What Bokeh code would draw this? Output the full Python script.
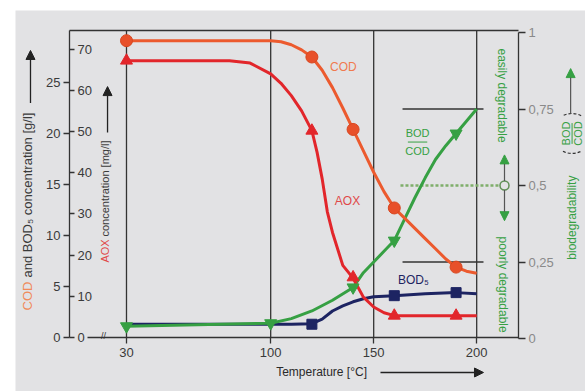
import math
from bokeh.plotting import figure
from bokeh.models import LinearAxis, Range1d, FixedTicker, Arrow, NormalHead
from bokeh.core.properties import value
from bokeh.embed import file_html
from bokeh.resources import INLINE

# ---------------- data ----------------
# COD [g/l] curve and markers
cod_curve_x = [30, 100, 105, 110, 115, 120, 125, 130, 135, 140, 145, 150, 155, 160, 165, 170, 175, 180, 185, 190, 195, 200]
cod_curve_y = [29.1, 29.1, 29.0, 28.7, 28.2, 27.5, 26.2, 24.5, 22.5, 20.4, 18.3, 16.2, 14.3, 12.7, 11.7, 10.7, 9.7, 8.7, 7.7, 6.9, 6.5, 6.3]
cod_pts_x = [30, 120, 140, 160, 190]
cod_pts_y = [29.1, 27.5, 20.4, 12.7, 6.9]

# AOX [mg/l]
aox_curve_x = [30, 80, 90, 100, 105, 110, 115, 120, 122.5, 125, 127.5, 130, 135, 140, 145, 150, 155, 160, 190, 200]
aox_curve_y = [67.2, 67.2, 66.6, 64.0, 61.7, 58.7, 55.0, 50.2, 45.0, 38.5, 30.5, 25.5, 17.5, 14.4, 9.8, 7.4, 6.0, 5.3, 5.3, 5.3]
aox_pts_x = [30, 120, 140, 160, 190]
aox_pts_y = [67.2, 50.2, 14.6, 5.3, 5.3]

# BOD5 [g/l]
bod_curve_x = [30, 110, 120, 125, 130, 135, 140, 145, 150, 160, 175, 190, 200]
bod_curve_y = [1.3, 1.3, 1.35, 1.8, 2.6, 3.1, 3.5, 3.8, 4.0, 4.1, 4.3, 4.4, 4.3]
bod_pts_x = [120, 160, 190]
bod_pts_y = [1.3, 4.1, 4.4]

# BOD/COD ratio
rat_curve_x = [30, 100, 110, 120, 130, 140, 145, 150, 155, 160, 165, 170, 175, 180, 185, 190, 195, 200]
rat_curve_y = [0.04, 0.05, 0.065, 0.09, 0.125, 0.167, 0.215, 0.25, 0.285, 0.32, 0.39, 0.46, 0.525, 0.585, 0.63, 0.67, 0.71, 0.75]
rat_pts_x = [30, 100, 140, 160, 190]
rat_pts_y = [0.04, 0.05, 0.167, 0.32, 0.67]

x_ticks = [30, 100, 150, 200]
g_ticks = [0, 5, 10, 15, 20, 25]
mg_ticks = [0, 10, 20, 30, 40, 50, 60, 70]
ratio_ticks = [0, 0.25, 0.5, 0.75, 1]
ratio_labels = ["0", "0,25", "0,5", "0,75", "1"]
ratio_marks = [0.25, 0.75]

# ---------------- styling / geometry ----------------
FONT = value("Liberation Sans")
C_COD = "#ec5a2e"
C_AOX = "#e2262b"
C_BOD = "#1d2462"
C_GRN = "#36a043"
C_AX = "#333333"
BG = "#e2e2e4"

X0, X1 = -23.88, 252.82          # temperature range spanned by the frame
G0, G1 = -5.294, 32.06           # g/l
MG0, MG1 = -13.107, 79.37        # mg/l
R0, R1 = -0.1732, 1.0719         # ratio
XA, XR, XB = 2.3, 220.3, 11.0    # left axis, right axis, start of x axis line
GTOP, MGTOP = 30.1, 74.5

p = figure(width=585, height=391, output_backend="svg", toolbar_location=None,
           x_range=Range1d(X0, X1), y_range=Range1d(G0, G1),
           x_axis_type=None, y_axis_type=None,
           min_border_left=15, min_border_top=10, min_border_right=0, min_border_bottom=0)
p.extra_y_ranges = {"mg": Range1d(MG0, MG1), "ratio": Range1d(R0, R1)}
p.background_fill_color = BG
p.border_fill_color = "white"
p.outline_line_color = None


def style_axis(ax, color=C_AX, label_color="#3a3a3a"):
    ax.axis_line_color = color
    ax.axis_line_width = 1.3
    ax.major_tick_line_color = color
    ax.major_tick_line_width = 1.3
    ax.minor_tick_line_color = None
    ax.major_label_text_font = "Liberation Sans"
    ax.major_label_text_font_size = "13px"
    ax.major_label_text_color = label_color


ax_g = LinearAxis(fixed_location=XA, bounds=(0, GTOP), ticker=FixedTicker(ticks=g_ticks),
                  major_tick_out=6, major_tick_in=0, major_label_standoff=3)
style_axis(ax_g)
p.add_layout(ax_g, "left")

ax_mg = LinearAxis(y_range_name="mg", fixed_location=XA, bounds=(0, MGTOP),
                   ticker=FixedTicker(ticks=mg_ticks), major_tick_out=5, major_tick_in=0,
                   major_label_standoff=3)
style_axis(ax_mg)
ax_mg.axis_line_color = None
p.add_layout(ax_mg, "right")

ax_x = LinearAxis(fixed_location=0, bounds=(XB, XR), ticker=FixedTicker(ticks=x_ticks),
                  major_tick_out=6, major_tick_in=0, major_label_standoff=4)
style_axis(ax_x)
p.add_layout(ax_x, "below")

ax_top = LinearAxis(fixed_location=GTOP, bounds=(XA, XR), ticker=FixedTicker(ticks=[]))
style_axis(ax_top)
p.add_layout(ax_top, "above")

ax_r = LinearAxis(y_range_name="ratio", fixed_location=XR, bounds=(0, 1),
                  ticker=FixedTicker(ticks=ratio_ticks), major_tick_out=7, major_tick_in=0,
                  major_label_standoff=3,
                  major_label_overrides={t: l for t, l in zip(ratio_ticks, ratio_labels)})
style_axis(ax_r, label_color="#8a8a8a")
p.add_layout(ax_r, "right")

# vertical reference lines at the tick temperatures
p.segment(x0=x_ticks, y0=[0] * len(x_ticks), x1=x_ticks, y1=[GTOP] * len(x_ticks),
          line_color=C_AX, line_width=1.3)

# horizontal limit lines (0.25 / 0.75) and dashed 0.5 line
p.segment(x0=[164.0] * 2, y0=ratio_marks, x1=[203.3] * 2, y1=ratio_marks,
          line_color=C_AX, line_width=1.3, y_range_name="ratio")
p.segment(x0=[163.0], y0=[0.5], x1=[213.5], y1=[0.5], line_color="#7fae6a",
          line_width=2.5, line_dash="3 2", y_range_name="ratio")

# curves
p.line(bod_curve_x, bod_curve_y, line_color=C_BOD, line_width=3)
p.line(rat_curve_x, rat_curve_y, line_color=C_GRN, line_width=3, y_range_name="ratio")
p.line(aox_curve_x, aox_curve_y, line_color=C_AOX, line_width=3, y_range_name="mg")
p.line(cod_curve_x, cod_curve_y, line_color=C_COD, line_width=3)

# markers
p.scatter(bod_pts_x, bod_pts_y, marker="square", size=10, fill_color=C_BOD, line_color=C_BOD)
p.scatter(rat_pts_x, rat_pts_y, marker="inverted_triangle", size=12, fill_color=C_GRN,
          line_color=C_GRN, y_range_name="ratio")
p.scatter(aox_pts_x, aox_pts_y, marker="triangle", size=12, fill_color=C_AOX,
          line_color=C_AOX, y_range_name="mg")
p.scatter(cod_pts_x, cod_pts_y, marker="circle", size=12, fill_color="#e8502a",
          line_color="#d8461f")

# open circle on 0.5 line
p.scatter([213.5], [0.5], marker="circle", size=9, fill_color=BG, line_color="#5f8f55",
          line_width=1.5, y_range_name="ratio")


def txt(x, y, s, color, size="12px", angle=0.0, align="center", baseline="middle", rng="default"):
    p.text(x=[x], y=[y], text=[s], text_color=color, text_font=FONT, text_font_size=size,
           angle=angle, text_align=align, text_baseline=baseline, y_range_name=rng)


# in-plot labels
txt(135.3, 26.5, "COD", "#f07a4e", "12px")
txt(137.3, 13.4, "AOX", "#e04848", "12px")
txt(169.3, 5.6, "BOD₅", C_BOD, "12px")
txt(171.3, 0.672, "BOD", C_GRN, "11px", rng="ratio")
txt(171.3, 0.612, "COD", C_GRN, "11px", rng="ratio")
p.segment(x0=[166.6], y0=[0.642], x1=[176.0], y1=[0.642], line_color=C_GRN, line_width=1,
          y_range_name="ratio")

# left axis titles
txt(-18.06, 2.65, "COD", "#f08a5a", "13px", angle=math.pi / 2, align="left")
txt(-18.06, 5.88, "and BOD₅ concentration [g/l]", "#3a3a3a", "13px", angle=math.pi / 2, align="left")
p.add_layout(Arrow(end=NormalHead(size=9, fill_color="#222222", line_color="#222222"),
                   x_start=-16.6, y_start=23.0, x_end=-16.6, y_end=28.14,
                   line_color="#222222", line_width=1.3))
txt(19.8, 7.35, "AOX", "#e04848", "11px", angle=math.pi / 2, align="left")
txt(19.8, 9.9, "concentration [mg/l]", "#3a3a3a", "11px", angle=math.pi / 2, align="left")
p.add_layout(Arrow(end=NormalHead(size=9, fill_color="#222222", line_color="#222222"),
                   x_start=20.8, y_start=20.1, x_end=20.8, y_end=24.6,
                   line_color="#222222", line_width=1.3))

# x axis title and arrow
txt(124.7, -3.43, "Temperature [°C]", "#2a2a2a", "12px")
p.add_layout(Arrow(end=NormalHead(size=9, fill_color="#222222", line_color="#222222"),
                   x_start=153.3, y_start=-3.43, x_end=203.3, y_end=-3.43,
                   line_color="#222222", line_width=1.3))
# axis break mark
txt(18.8, 0.15, "//", "#333333", "9px")

# right-hand degradability labels
txt(212.5, 0.794, "easily degradable", C_GRN, "12px", angle=-math.pi / 2, rng="ratio")
txt(213.0, 0.176, "poorly degradable", C_GRN, "12px", angle=-math.pi / 2, rng="ratio")
p.add_layout(Arrow(end=NormalHead(size=9, fill_color=C_GRN, line_color=C_GRN),
                   x_start=213.5, y_start=0.515, x_end=213.5, y_end=0.60,
                   line_color="#555555", line_width=1.2, y_range_name="ratio"))
p.add_layout(Arrow(end=NormalHead(size=9, fill_color=C_GRN, line_color=C_GRN),
                   x_start=213.5, y_start=0.485, x_end=213.5, y_end=0.385,
                   line_color="#555555", line_width=1.2, y_range_name="ratio"))

# far-right biodegradability title
txt(246.5, 0.395, "biodegradability", C_GRN, "12px", angle=math.pi / 2, rng="ratio")
txt(243.4, 0.67, "BOD", C_GRN, "11px", angle=math.pi / 2, rng="ratio")
txt(249.2, 0.67, "COD", C_GRN, "11px", angle=math.pi / 2, rng="ratio")
p.segment(x0=[246.3], y0=[0.636], x1=[246.3], y1=[0.704], line_color=C_GRN, line_width=1,
          y_range_name="ratio")
p.arc(x=[246.3, 246.3], y=[0.67, 0.67], radius=20, radius_units="screen",
      start_angle=[math.radians(63), math.radians(243)],
      end_angle=[math.radians(117), math.radians(297)],
      line_color="#333333", line_width=1.2, line_dash="3 2", y_range_name="ratio")
p.add_layout(Arrow(end=NormalHead(size=9, fill_color=C_GRN, line_color=C_GRN),
                   x_start=245.6, y_start=0.735, x_end=245.6, y_end=0.882,
                   line_color="#555555", line_width=1.2, y_range_name="ratio"))

open("out.html", "w").write(file_html(p, INLINE))
